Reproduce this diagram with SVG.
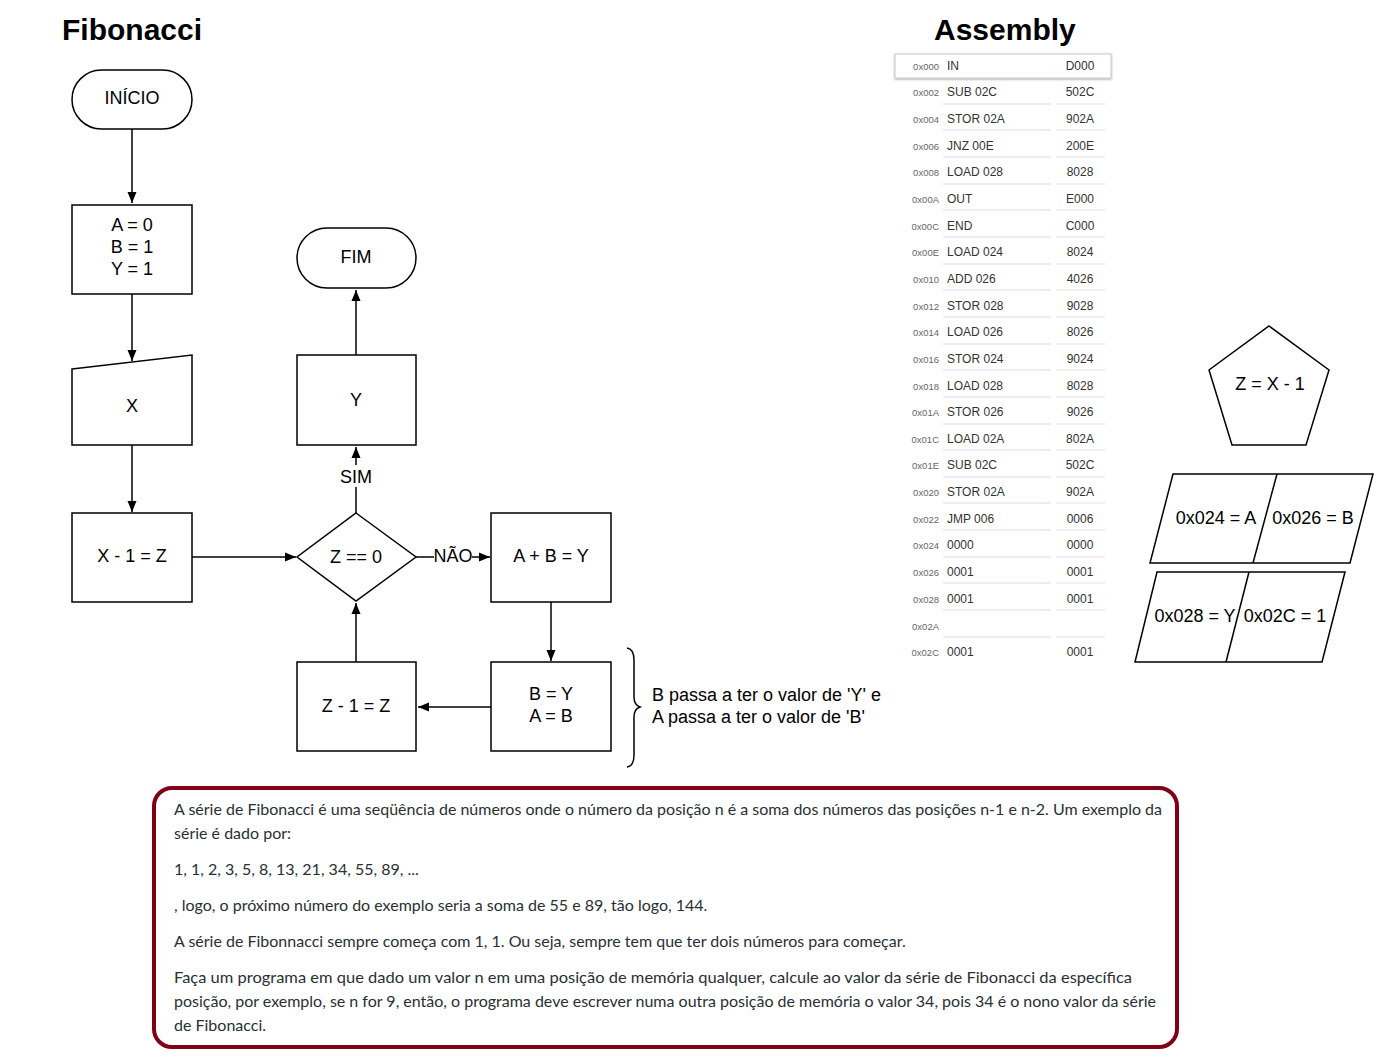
<svg xmlns="http://www.w3.org/2000/svg" width="1379" height="1059" viewBox="0 0 1379 1059">
<defs>
<marker id="arr" markerUnits="userSpaceOnUse" markerWidth="12" markerHeight="10" refX="11" refY="5" orient="auto">
<path d="M0,0.5 L11,5 L0,9.5 z" fill="#000"/>
</marker>
<filter id="sh" x="-5%" y="-30%" width="110%" height="160%">
<feDropShadow dx="0" dy="1" stdDeviation="1.2" flood-color="#000" flood-opacity="0.35"/>
</filter>
</defs>
<style>
.s{fill:#fff;stroke:#000;stroke-width:1.5}
.t{font-family:"Liberation Sans",Arial,sans-serif;font-size:18px;fill:#000;text-anchor:middle}
.ttl{font-family:"Liberation Sans",Arial,sans-serif;font-size:30px;font-weight:bold;fill:#000}
.c{stroke:#000;stroke-width:1.5;fill:none}
.ad{font-family:"Liberation Sans",Arial,sans-serif;font-size:9.5px;fill:#666;text-anchor:end}
.in{font-family:"Liberation Sans",Arial,sans-serif;font-size:12px;fill:#333}
.cd{font-family:"Liberation Sans",Arial,sans-serif;font-size:12px;fill:#333;text-anchor:middle}
.u1{stroke:#dcdcf6;stroke-width:1.2}
.u2{stroke:#e2e2e2;stroke-width:1.2}
.p{font-family:Lato,"Noto Sans",sans-serif;font-size:16px;fill:#2a2f35}
</style>
<rect width="1379" height="1059" fill="#fff"/>

<text class="ttl" x="62" y="40">Fibonacci</text>
<text class="ttl" x="934" y="40">Assembly</text>

<g id="connectors">
<line class="c" x1="132" y1="129" x2="132" y2="203" marker-end="url(#arr)"/>
<line class="c" x1="132" y1="294" x2="132" y2="361" marker-end="url(#arr)"/>
<line class="c" x1="132" y1="445" x2="132" y2="512" marker-end="url(#arr)"/>
<line class="c" x1="192" y1="557" x2="296" y2="557" marker-end="url(#arr)"/>
<line class="c" x1="356" y1="513" x2="356" y2="447" marker-end="url(#arr)"/>
<rect x="336" y="465" width="40" height="22" fill="#fff"/>
<text class="t" x="356" y="483">SIM</text>
<line class="c" x1="356" y1="355" x2="356" y2="290" marker-end="url(#arr)"/>
<line class="c" x1="416" y1="557" x2="490" y2="557" marker-end="url(#arr)"/>
<rect x="434" y="545" width="38" height="22" fill="#fff"/>
<text class="t" x="453" y="562">NÃO</text>
<line class="c" x1="551" y1="602" x2="551" y2="661" marker-end="url(#arr)"/>
<line class="c" x1="491" y1="707" x2="418" y2="707" marker-end="url(#arr)"/>
<line class="c" x1="356" y1="662" x2="356" y2="603" marker-end="url(#arr)"/>
</g>

<g id="inicio">
<rect class="s" x="72" y="70" width="120" height="59" rx="29.5"/>
<text class="t" x="132" y="104">INÍCIO</text>
</g>
<g id="init">
<rect class="s" x="72" y="205" width="120" height="89"/>
<text class="t" x="132" y="231">A = 0</text>
<text class="t" x="132" y="253">B = 1</text>
<text class="t" x="132" y="275">Y = 1</text>
</g>
<g id="inputX">
<path class="s" d="M72,369 L192,355 L192,445 L72,445 Z"/>
<text class="t" x="132" y="412">X</text>
</g>
<g id="xminus">
<rect class="s" x="72" y="513" width="120" height="89"/>
<text class="t" x="132" y="562">X - 1 = Z</text>
</g>
<g id="decision">
<path class="s" d="M356,513 L416,557 L356,601 L297,557 Z"/>
<text class="t" x="356" y="563">Z == 0</text>
</g>
<g id="outY">
<rect class="s" x="297" y="355" width="119" height="90"/>
<text class="t" x="356" y="406">Y</text>
</g>
<g id="fim">
<rect class="s" x="297" y="228" width="119" height="60" rx="30"/>
<text class="t" x="356" y="263">FIM</text>
</g>
<g id="sum">
<rect class="s" x="491" y="513" width="120" height="89"/>
<text class="t" x="551" y="562">A + B = Y</text>
</g>
<g id="swap">
<rect class="s" x="491" y="662" width="120" height="89"/>
<text class="t" x="551" y="700">B = Y</text>
<text class="t" x="551" y="722">A = B</text>
</g>
<g id="zminus">
<rect class="s" x="297" y="662" width="119" height="89"/>
<text class="t" x="356" y="712">Z - 1 = Z</text>
</g>
<g id="brace">
<path class="c" d="M627,648 Q634,649 634,660 L634,697 Q634,705 640,707 Q634,709 634,717 L634,755 Q634,766 627,767"/>
<text class="t" x="652" y="701" style="text-anchor:start">B passa a ter o valor de 'Y' e</text>
<text class="t" x="652" y="723" style="text-anchor:start">A passa a ter o valor de 'B'</text>
</g>

<g id="pentagon">
<path class="s" d="M1269,326 L1329,370 L1306,445 L1232,445 L1209,370 Z"/>
<text class="t" x="1270" y="390">Z = X - 1</text>
</g>
<g id="mem1">
<path class="s" d="M1173,474 L1373,474 L1350,563 L1150,563 Z"/>
<line class="c" x1="1277" y1="474" x2="1253" y2="563"/>
<text class="t" x="1216" y="524">0x024 = A</text>
<text class="t" x="1313" y="524">0x026 = B</text>
</g>
<g id="mem2">
<path class="s" d="M1157,572 L1345,572 L1322,662 L1135,662 Z"/>
<line class="c" x1="1249" y1="572" x2="1226" y2="662"/>
<text class="t" x="1195" y="622">0x028 = Y</text>
<text class="t" x="1285" y="622">0x02C = 1</text>
</g>

<g id="table">
<rect x="895" y="54" width="216" height="24" fill="#fff" stroke="#c8c8c8" stroke-width="1" filter="url(#sh)"/>
<g>
<text class="ad" x="939" y="70">0x000</text><text class="in" x="947" y="70">IN</text><text class="cd" x="1080" y="70">D000</text>
<text class="ad" x="939" y="96">0x002</text><text class="in" x="947" y="96">SUB 02C</text><text class="cd" x="1080" y="96">502C</text>
<text class="ad" x="939" y="123">0x004</text><text class="in" x="947" y="123">STOR 02A</text><text class="cd" x="1080" y="123">902A</text>
<text class="ad" x="939" y="150">0x006</text><text class="in" x="947" y="150">JNZ 00E</text><text class="cd" x="1080" y="150">200E</text>
<text class="ad" x="939" y="176">0x008</text><text class="in" x="947" y="176">LOAD 028</text><text class="cd" x="1080" y="176">8028</text>
<text class="ad" x="939" y="203">0x00A</text><text class="in" x="947" y="203">OUT</text><text class="cd" x="1080" y="203">E000</text>
<text class="ad" x="939" y="230">0x00C</text><text class="in" x="947" y="230">END</text><text class="cd" x="1080" y="230">C000</text>
<text class="ad" x="939" y="256">0x00E</text><text class="in" x="947" y="256">LOAD 024</text><text class="cd" x="1080" y="256">8024</text>
<text class="ad" x="939" y="283">0x010</text><text class="in" x="947" y="283">ADD 026</text><text class="cd" x="1080" y="283">4026</text>
<text class="ad" x="939" y="310">0x012</text><text class="in" x="947" y="310">STOR 028</text><text class="cd" x="1080" y="310">9028</text>
<text class="ad" x="939" y="336">0x014</text><text class="in" x="947" y="336">LOAD 026</text><text class="cd" x="1080" y="336">8026</text>
<text class="ad" x="939" y="363">0x016</text><text class="in" x="947" y="363">STOR 024</text><text class="cd" x="1080" y="363">9024</text>
<text class="ad" x="939" y="390">0x018</text><text class="in" x="947" y="390">LOAD 028</text><text class="cd" x="1080" y="390">8028</text>
<text class="ad" x="939" y="416">0x01A</text><text class="in" x="947" y="416">STOR 026</text><text class="cd" x="1080" y="416">9026</text>
<text class="ad" x="939" y="443">0x01C</text><text class="in" x="947" y="443">LOAD 02A</text><text class="cd" x="1080" y="443">802A</text>
<text class="ad" x="939" y="469">0x01E</text><text class="in" x="947" y="469">SUB 02C</text><text class="cd" x="1080" y="469">502C</text>
<text class="ad" x="939" y="496">0x020</text><text class="in" x="947" y="496">STOR 02A</text><text class="cd" x="1080" y="496">902A</text>
<text class="ad" x="939" y="523">0x022</text><text class="in" x="947" y="523">JMP 006</text><text class="cd" x="1080" y="523">0006</text>
<text class="ad" x="939" y="549">0x024</text><text class="in" x="947" y="549">0000</text><text class="cd" x="1080" y="549">0000</text>
<text class="ad" x="939" y="576">0x026</text><text class="in" x="947" y="576">0001</text><text class="cd" x="1080" y="576">0001</text>
<text class="ad" x="939" y="603">0x028</text><text class="in" x="947" y="603">0001</text><text class="cd" x="1080" y="603">0001</text>
<text class="ad" x="939" y="630">0x02A</text>
<text class="ad" x="939" y="656">0x02C</text><text class="in" x="947" y="656">0001</text><text class="cd" x="1080" y="656">0001</text>
</g>
<g>
<line class="u1" x1="943" y1="104" x2="1051" y2="104"/><line class="u2" x1="1056" y1="104" x2="1105" y2="104"/>
<line class="u1" x1="943" y1="130" x2="1051" y2="130"/><line class="u2" x1="1056" y1="130" x2="1105" y2="130"/>
<line class="u1" x1="943" y1="157" x2="1051" y2="157"/><line class="u2" x1="1056" y1="157" x2="1105" y2="157"/>
<line class="u1" x1="943" y1="184" x2="1051" y2="184"/><line class="u2" x1="1056" y1="184" x2="1105" y2="184"/>
<line class="u1" x1="943" y1="210" x2="1051" y2="210"/><line class="u2" x1="1056" y1="210" x2="1105" y2="210"/>
<line class="u1" x1="943" y1="237" x2="1051" y2="237"/><line class="u2" x1="1056" y1="237" x2="1105" y2="237"/>
<line class="u1" x1="943" y1="264" x2="1051" y2="264"/><line class="u2" x1="1056" y1="264" x2="1105" y2="264"/>
<line class="u1" x1="943" y1="290" x2="1051" y2="290"/><line class="u2" x1="1056" y1="290" x2="1105" y2="290"/>
<line class="u1" x1="943" y1="317" x2="1051" y2="317"/><line class="u2" x1="1056" y1="317" x2="1105" y2="317"/>
<line class="u1" x1="943" y1="344" x2="1051" y2="344"/><line class="u2" x1="1056" y1="344" x2="1105" y2="344"/>
<line class="u1" x1="943" y1="370" x2="1051" y2="370"/><line class="u2" x1="1056" y1="370" x2="1105" y2="370"/>
<line class="u1" x1="943" y1="397" x2="1051" y2="397"/><line class="u2" x1="1056" y1="397" x2="1105" y2="397"/>
<line class="u1" x1="943" y1="424" x2="1051" y2="424"/><line class="u2" x1="1056" y1="424" x2="1105" y2="424"/>
<line class="u1" x1="943" y1="450" x2="1051" y2="450"/><line class="u2" x1="1056" y1="450" x2="1105" y2="450"/>
<line class="u1" x1="943" y1="477" x2="1051" y2="477"/><line class="u2" x1="1056" y1="477" x2="1105" y2="477"/>
<line class="u1" x1="943" y1="503" x2="1051" y2="503"/><line class="u2" x1="1056" y1="503" x2="1105" y2="503"/>
<line class="u1" x1="943" y1="530" x2="1051" y2="530"/><line class="u2" x1="1056" y1="530" x2="1105" y2="530"/>
<line class="u1" x1="943" y1="557" x2="1051" y2="557"/><line class="u2" x1="1056" y1="557" x2="1105" y2="557"/>
<line class="u1" x1="943" y1="583" x2="1051" y2="583"/><line class="u2" x1="1056" y1="583" x2="1105" y2="583"/>
<line class="u1" x1="943" y1="610" x2="1051" y2="610"/><line class="u2" x1="1056" y1="610" x2="1105" y2="610"/>
<line class="u1" x1="943" y1="637" x2="1051" y2="637"/><line class="u2" x1="1056" y1="637" x2="1105" y2="637"/>
</g>
</g>

<g id="description">
<rect x="154" y="788" width="1023" height="259" rx="18" fill="#fff" stroke="#800018" stroke-width="4"/>
<text class="p" x="174" y="815" textLength="988" lengthAdjust="spacingAndGlyphs">A série de Fibonacci é uma seqüência de números onde o número da posição n é a soma dos números das posições n-1 e n-2. Um exemplo da</text>
<text class="p" x="174" y="839">série é dado por:</text>
<text class="p" x="174" y="875">1, 1, 2, 3, 5, 8, 13, 21, 34, 55, 89, ...</text>
<text class="p" x="174" y="911">, logo, o próximo número do exemplo seria a soma de 55 e 89, tão logo, 144.</text>
<text class="p" x="174" y="947">A série de Fibonnacci sempre começa com 1, 1. Ou seja, sempre tem que ter dois números para começar.</text>
<text class="p" x="174" y="983" textLength="958" lengthAdjust="spacingAndGlyphs">Faça um programa em que dado um valor n em uma posição de memória qualquer, calcule ao valor da série de Fibonacci da específica</text>
<text class="p" x="174" y="1007" textLength="982" lengthAdjust="spacingAndGlyphs">posição, por exemplo, se n for 9, então, o programa deve escrever numa outra posição de memória o valor 34, pois 34 é o nono valor da série</text>
<text class="p" x="174" y="1031">de Fibonacci.</text>
</g>
</svg>
